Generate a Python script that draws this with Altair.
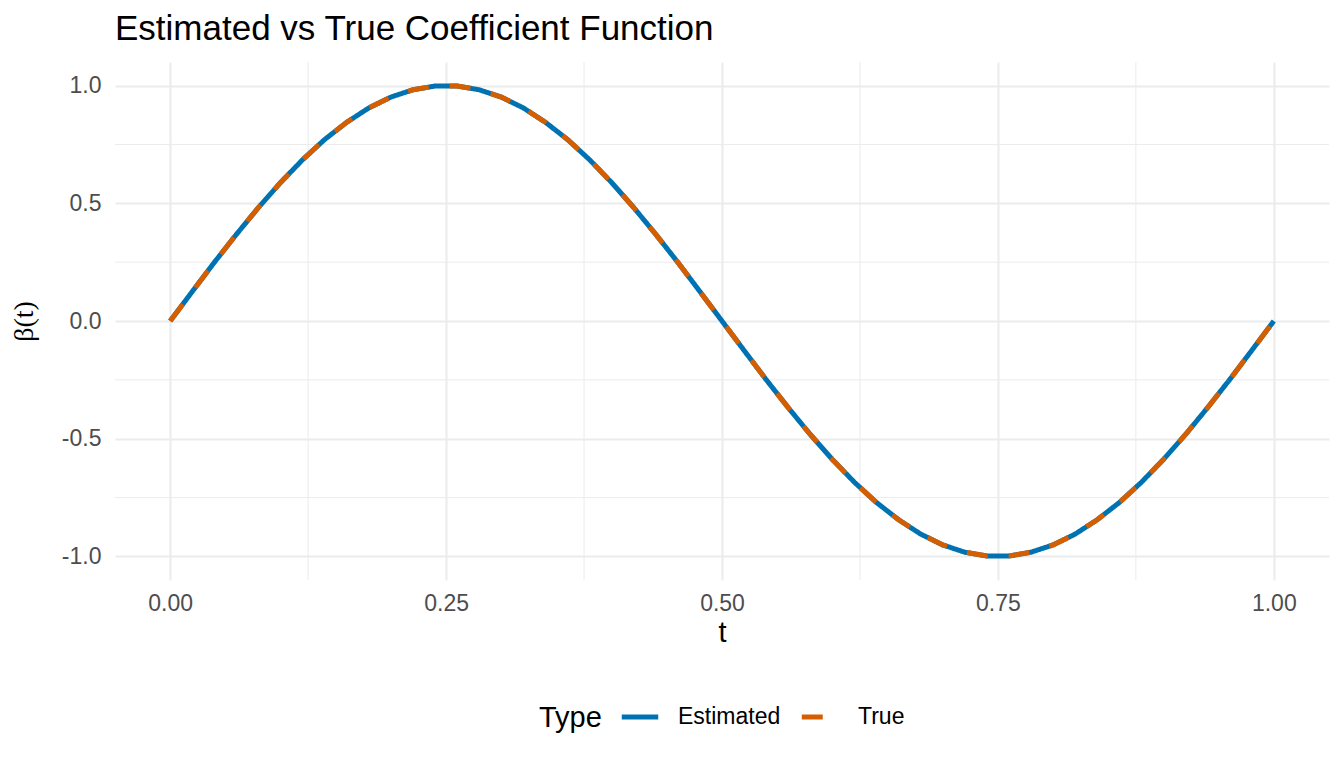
import altair as alt
import pandas as pd

# ---- data ----
t_values = [0.00, 0.02, 0.04, 0.06, 0.08, 0.10, 0.12, 0.14, 0.16, 0.18,
            0.20, 0.22, 0.24, 0.26, 0.28, 0.30, 0.32, 0.34, 0.36, 0.38,
            0.40, 0.42, 0.44, 0.46, 0.48, 0.50, 0.52, 0.54, 0.56, 0.58,
            0.60, 0.62, 0.64, 0.66, 0.68, 0.70, 0.72, 0.74, 0.76, 0.78,
            0.80, 0.82, 0.84, 0.86, 0.88, 0.90, 0.92, 0.94, 0.96, 0.98, 1.00]
estimated = [0.000, 0.125, 0.249, 0.368, 0.482, 0.588, 0.685, 0.771, 0.844, 0.905,
             0.951, 0.982, 0.998, 0.998, 0.982, 0.951, 0.905, 0.844, 0.771, 0.685,
             0.588, 0.482, 0.368, 0.249, 0.125, 0.000, -0.125, -0.249, -0.368, -0.482,
             -0.588, -0.685, -0.771, -0.844, -0.905, -0.951, -0.982, -0.998, -0.998, -0.982,
             -0.951, -0.905, -0.844, -0.771, -0.685, -0.588, -0.482, -0.368, -0.249, -0.125, 0.000]
true_vals = [0.000, 0.125, 0.249, 0.368, 0.482, 0.588, 0.685, 0.771, 0.844, 0.905,
             0.951, 0.982, 0.998, 0.998, 0.982, 0.951, 0.905, 0.844, 0.771, 0.685,
             0.588, 0.482, 0.368, 0.249, 0.125, 0.000, -0.125, -0.249, -0.368, -0.482,
             -0.588, -0.685, -0.771, -0.844, -0.905, -0.951, -0.982, -0.998, -0.998, -0.982,
             -0.951, -0.905, -0.844, -0.771, -0.685, -0.588, -0.482, -0.368, -0.249, -0.125, 0.000]
types = ["Estimated", "True"]
colors = ["#0072B2", "#D55E00"]
x_ticks = [0.0, 0.25, 0.5, 0.75, 1.0]
y_ticks = [-1.0, -0.5, 0.0, 0.5, 1.0]
x_minor = [0.125, 0.375, 0.625, 0.875]
y_minor = [-0.75, -0.25, 0.25, 0.75]

df = pd.concat([
    pd.DataFrame({"t": t_values, "beta": estimated, "Type": types[0]}),
    pd.DataFrame({"t": t_values, "beta": true_vals, "Type": types[1]}),
])

W, H = 1214, 518
FONT = "Liberation Sans"
GRID = "#EBEBEB"

xscale = alt.Scale(domain=[-0.05, 1.05], nice=False, zero=False)
yscale = alt.Scale(domain=[-1.1, 1.1], nice=False, zero=False)

minor_x = alt.Chart(pd.DataFrame({"v": x_minor})).mark_rule(
    color=GRID, strokeWidth=1.0
).encode(x=alt.X("v:Q", scale=xscale), y=alt.value(0), y2=alt.value(H))

minor_y = alt.Chart(pd.DataFrame({"v": y_minor})).mark_rule(
    color=GRID, strokeWidth=1.0
).encode(y=alt.Y("v:Q", scale=yscale), x=alt.value(0), x2=alt.value(W))

color_enc = alt.Color("Type:N", scale=alt.Scale(domain=types, range=colors),
                      legend=alt.Legend(title="Type"))
dash_enc = alt.StrokeDash("Type:N", scale=alt.Scale(domain=types, range=[[1, 0], [21, 21]]),
                          legend=alt.Legend(title="Type"))

x_enc = alt.X("t:Q", scale=xscale, title="t",
              axis=alt.Axis(values=x_ticks, format=".2f", grid=True, gridColor=GRID,
                            gridWidth=2, domain=False, ticks=False, labelPadding=12,
                            labelFontSize=23, labelColor="#4D4D4D", labelFont=FONT,
                            titleFont=FONT, titleFontSize=29, titleFontWeight="normal",
                            titleColor="#000000", titlePadding=3.5))
y_enc = alt.Y("beta:Q", scale=yscale, title="β(t)",
              axis=alt.Axis(values=y_ticks, grid=True, gridColor=GRID, gridWidth=2,
                            domain=False, ticks=False, labelPadding=14,
                            labelExpr="datum.value < 0 ? '-' + format(-datum.value, '.1f') : format(datum.value, '.1f')",
                            labelFontSize=23, labelColor="#4D4D4D", labelFont=FONT,
                            titleFont="Liberation Serif", titleFontSize=28,
                            titleFontWeight="normal", titleColor="#000000", titlePadding=23))

est_line = alt.Chart(df).transform_filter(alt.datum.Type == types[0]).mark_line(
    strokeWidth=5, strokeCap="butt"
).encode(x=x_enc, y=y_enc, color=color_enc, strokeDash=dash_enc)

true_line = alt.Chart(df).transform_filter(alt.datum.Type == types[1]).mark_line(
    strokeWidth=5, strokeCap="butt"
).encode(x=x_enc, y=y_enc, color=color_enc, strokeDash=dash_enc)

chart = alt.layer(minor_x, minor_y, est_line, true_line).properties(
    width=W, height=H, background="white",
    title=alt.TitleParams("Estimated vs True Coefficient Function", anchor="start",
                          frame="group", font=FONT, fontSize=35, fontWeight="normal",
                          color="#000000", offset=15),
    autosize=alt.AutoSizeParams(type="none"),
    padding={"left": 107, "top": 54, "right": 5, "bottom": 180},
).configure_view(strokeWidth=0, stroke="transparent").configure_legend(
    orient="none", legendX=424, legendY=634, direction="horizontal", titleOrient="left",
    titleFont=FONT, titleFontSize=29, titleFontWeight="normal", titleColor="#000000",
    titlePadding=17, labelFont=FONT, labelFontSize=23, labelColor="#000000",
    labelOffset=17, columnPadding=10, symbolType="stroke", symbolSize=1330,
    symbolStrokeWidth=5, titleBaseline="line-top", titleLineHeight=10.6,
    titleAnchor="middle",
)

chart.save("out.html", embed_options={"renderer": "svg", "actions": False})
